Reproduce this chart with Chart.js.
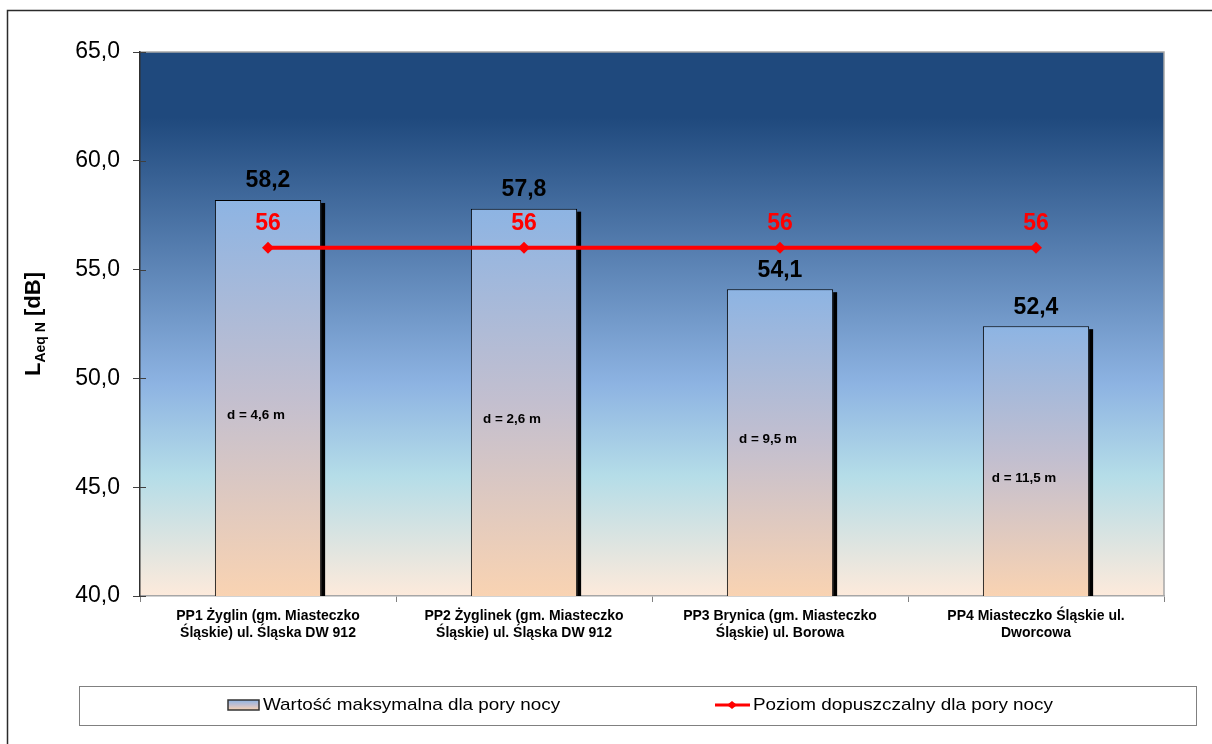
<!DOCTYPE html>
<html lang="pl">
<head>
<meta charset="utf-8">
<title>Poziom hałasu – pora nocna</title>
<script src="https://cdn.jsdelivr.net/npm/chart.js@4/dist/chart.umd.min.js"></script>
<style>
  html, body { margin: 0; padding: 0; background: #ffffff; }
  #wrap { position: relative; width: 1212px; height: 744px; }
</style>
</head>
<body>
<div id="wrap"><canvas id="chart"></canvas></div>
<script>
// Punkty pomiarowe (etykiety osi X, łamane na dwie linie)
const categories = [
  ['PP1 Żyglin (gm. Miasteczko', 'Śląskie) ul. Śląska DW 912'],
  ['PP2 Żyglinek (gm. Miasteczko', 'Śląskie) ul. Śląska DW 912'],
  ['PP3 Brynica (gm. Miasteczko', 'Śląskie) ul. Borowa'],
  ['PP4 Miasteczko Śląskie ul.', 'Dworcowa']
];
// Wartość maksymalna LAeq N [dB]
const measured = [58.2, 57.8, 54.1, 52.4];
// Poziom dopuszczalny dla pory nocy [dB]
const limit = [56, 56, 56, 56];
// Odległość punktu od krawędzi jezdni
const distances = ['d = 4,6 m', 'd = 2,6 m', 'd = 9,5 m', 'd = 11,5 m'];
// Wartości osi Y
const yMin = 40, yMax = 65, yStep = 5;

const seriesNames = ['Wartość maksymalna dla pory nocy', 'Poziom dopuszczalny dla pory nocy'];

// Wysokość (w dB), na której opisano odległość wewnątrz słupka
const distanceLabelLevel = [48.3, 48.1, 47.2, 45.4];

const FONT = '"Liberation Sans", Arial, sans-serif';
const fmt = v => v.toFixed(1).replace('.', ',');

function barFill(ctx, top, bottom) {
  const g = ctx.createLinearGradient(0, top, 0, bottom);
  g.addColorStop(0, '#8db4e3');
  g.addColorStop(0.5, '#c3bfcf');
  g.addColorStop(1, '#f9d3b2');
  return g;
}

// tekst lekko rozciągnięty w poziomie
function wideText(ctx, text, x, y, sx) {
  ctx.save();
  ctx.translate(x, y);
  ctx.scale(sx, 1);
  ctx.fillText(text, 0, 0);
  ctx.restore();
}

const decor = {
  id: 'decor',
  beforeDraw(chart) {
    const { ctx, chartArea: a } = chart;
    ctx.save();
    // ramka całego wykresu
    ctx.strokeStyle = '#2b2b2b';
    ctx.lineWidth = 1.5;
    ctx.beginPath();
    ctx.moveTo(7.5, 744);
    ctx.lineTo(7.5, 10.5);
    ctx.lineTo(1212, 10.5);
    ctx.stroke();
    // tło obszaru kreślenia
    const g = ctx.createLinearGradient(0, a.top, 0, a.bottom);
    g.addColorStop(0, '#1f497d');
    g.addColorStop(0.12, '#1f497d');
    g.addColorStop(0.61, '#8db3e2');
    g.addColorStop(0.78, '#b5dde8');
    g.addColorStop(1, '#fdeadb');
    ctx.fillStyle = g;
    ctx.fillRect(a.left, a.top, a.right - a.left, a.bottom - a.top);
    ctx.strokeStyle = '#a6a6a6';
    ctx.lineWidth = 1.5;
    ctx.beginPath();
    ctx.moveTo(a.left, a.top);
    ctx.lineTo(a.right, a.top);
    ctx.lineTo(a.right, a.bottom);
    ctx.stroke();
    ctx.restore();
  },
  afterDatasetDraw(chart, args) {
    if (args.index !== 0) return;
    const { ctx } = chart;
    const base = chart.scales.y.getPixelForValue(yMin);
    // cień z prawej strony słupków
    ctx.save();
    ctx.fillStyle = '#000';
    args.meta.data.forEach(bar => {
      const r = bar.x + bar.width / 2;
      ctx.fillRect(r, bar.y + 3, 4, base - bar.y - 3);
    });
    ctx.restore();
  },
  afterDatasetsDraw(chart) {
    const { ctx, chartArea: a } = chart;
    const yScale = chart.scales.y;
    ctx.save();
    ctx.textAlign = 'center';
    ctx.textBaseline = 'middle';
    // wartości słupków
    const bars = chart.getDatasetMeta(0).data;
    ctx.fillStyle = '#000';
    ctx.font = 'bold 23px ' + FONT;
    bars.forEach((bar, i) => ctx.fillText(fmt(measured[i]), bar.x, bar.y - 19));
    // odległości
    ctx.font = 'bold 12px ' + FONT;
    bars.forEach((bar, i) => wideText(ctx, distances[i], bar.x - 12, yScale.getPixelForValue(distanceLabelLevel[i]), 1.12));
    // wartości dopuszczalne
    const pts = chart.getDatasetMeta(1).data;
    ctx.fillStyle = '#ff0000';
    ctx.font = 'bold 23px ' + FONT;
    pts.forEach((p, i) => ctx.fillText(String(limit[i]), p.x, p.y - 24));
    // znaczniki osi Y wewnątrz obszaru
    ctx.strokeStyle = '#404040';
    ctx.lineWidth = 1;
    yScale.ticks.forEach(t => {
      const y = Math.round(yScale.getPixelForValue(t.value)) + 0.5;
      ctx.beginPath();
      ctx.moveTo(a.left, y);
      ctx.lineTo(a.left + 6, y);
      ctx.stroke();
    });
    ctx.restore();
  },
  afterDraw(chart) {
    const { ctx, chartArea: a } = chart;
    ctx.save();
    // tytuł osi Y z indeksem dolnym
    ctx.translate(33, (a.top + a.bottom) / 2);
    ctx.rotate(-Math.PI / 2);
    ctx.fillStyle = '#000';
    ctx.textBaseline = 'alphabetic';
    ctx.textAlign = 'left';
    const parts = [
      { t: 'L', f: 'bold 22px ' + FONT, dy: 0 },
      { t: 'Aeq N', f: 'bold 14px ' + FONT, dy: 5 },
      { t: ' [dB]', f: 'bold 22px ' + FONT, dy: 0 }
    ];
    let w = 0;
    parts.forEach(p => { ctx.font = p.f; w += ctx.measureText(p.t).width; });
    let x = -w / 2;
    parts.forEach(p => {
      ctx.font = p.f;
      ctx.fillText(p.t, x, 7 + p.dy);
      x += ctx.measureText(p.t).width;
    });
    ctx.restore();

    // legenda
    ctx.save();
    ctx.fillStyle = '#fff';
    ctx.fillRect(79.5, 686.5, 1117, 39);
    ctx.strokeStyle = '#808080';
    ctx.lineWidth = 1;
    ctx.strokeRect(79.5, 686.5, 1117, 39);
    const cy = 705;
    // próbka słupka
    ctx.fillStyle = barFill(ctx, cy - 5, cy + 5);
    ctx.fillRect(228, cy - 5, 31, 10);
    ctx.strokeStyle = '#333';
    ctx.lineWidth = 1.5;
    ctx.strokeRect(228, cy - 5, 31, 10);
    ctx.fillStyle = '#000';
    ctx.font = '17px ' + FONT;
    ctx.textBaseline = 'middle';
    ctx.textAlign = 'left';
    wideText(ctx, seriesNames[0], 263, cy, 1.11);
    // próbka linii
    ctx.strokeStyle = '#ff0000';
    ctx.lineWidth = 3;
    ctx.beginPath();
    ctx.moveTo(715, cy);
    ctx.lineTo(750, cy);
    ctx.stroke();
    ctx.fillStyle = '#ff0000';
    ctx.beginPath();
    ctx.moveTo(732, cy - 4); ctx.lineTo(737, cy); ctx.lineTo(732, cy + 4); ctx.lineTo(727, cy);
    ctx.closePath();
    ctx.fill();
    ctx.fillStyle = '#000';
    wideText(ctx, seriesNames[1], 753, cy, 1.11);
    ctx.restore();
  }
};

new Chart(document.getElementById('chart'), {
  data: {
    labels: categories,
    datasets: [
      {
        type: 'bar',
        label: seriesNames[0],
        data: measured,
        order: 1,
        categoryPercentage: 1,
        barPercentage: 0.415,
        borderColor: '#000',
        borderWidth: 1,
        backgroundColor: (c) => {
          const ch = c.chart;
          const ys = ch.scales && ch.scales.y;
          if (!ys || !c.parsed || !ch.chartArea) return '#a9b9d8';
          const top = ys.getPixelForValue(c.parsed.y);
          const bottom = ys.getPixelForValue(yMin);
          if (!isFinite(top) || !isFinite(bottom) || top === bottom) return '#a9b9d8';
          return barFill(ch.ctx, top, bottom);
        }
      },
      {
        type: 'line',
        label: seriesNames[1],
        data: limit,
        order: 0,
        borderColor: '#ff0000',
        borderWidth: 4,
        pointStyle: 'rectRot',
        pointRadius: 6,
        pointBackgroundColor: '#ff0000',
        pointBorderColor: '#ff0000',
        pointBorderWidth: 0
      }
    ]
  },
  options: {
    responsive: true,
    maintainAspectRatio: false,
    animation: false,
    layout: { padding: { top: 52, right: 48, left: 0, bottom: 0 } },
    plugins: {
      legend: { display: false },
      tooltip: { enabled: false }
    },
    scales: {
      x: {
        afterFit: s => { s.height = 148; },
        grid: { offset: true, drawOnChartArea: false, tickLength: 6, color: '#808080' },
        border: { color: '#a6a6a6', width: 1.5 },
        ticks: {
          color: '#000',
          padding: 6,
          maxRotation: 0,
          autoSkip: false,
          font: { family: FONT, size: 14, weight: 'bold', lineHeight: 1.2 }
        }
      },
      y: {
        min: yMin,
        max: yMax,
        afterFit: s => { s.width = 140; },
        grid: { drawOnChartArea: false, tickLength: 7, color: '#404040' },
        border: { color: '#303030', width: 1.5 },
        ticks: {
          stepSize: yStep,
          color: '#000',
          padding: 13,
          font: { family: FONT, size: 23 },
          callback: v => fmt(v)
        }
      }
    }
  },
  plugins: [decor]
});
</script>
</body>
</html>
